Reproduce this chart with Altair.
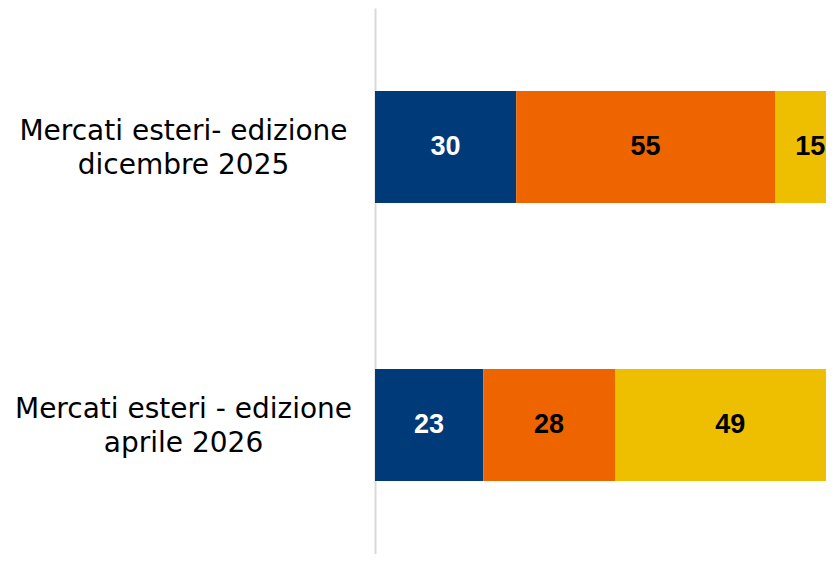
import altair as alt
import pandas as pd

categorie = ["Mercati esteri- edizione\ndicembre 2025", "Mercati esteri - edizione\naprile 2026"]
serie = ["Serie 1", "Serie 2", "Serie 3"]
valori_dic_2025 = [30, 55, 15]
valori_apr_2026 = [23, 28, 49]
colori = ["#003A78", "#EE6500", "#EEBE00"]

rows = []
for cat, vals in zip(categorie, [valori_dic_2025, valori_apr_2026]):
    for i, (s, v) in enumerate(zip(serie, vals)):
        rows.append({"categoria": cat, "serie": s, "ordine": i, "valore": v})
df = pd.DataFrame(rows)

FONT = "DejaVu Sans"
NUM_FONT = "Liberation Sans"

y_enc = alt.Y(
    "categoria:N",
    sort=categorie,
    scale=alt.Scale(paddingInner=0.597, paddingOuter=0.2805, align=0.532),
    axis=alt.Axis(
        title=None,
        ticks=False,
        labelExpr="split(datum.label, '\\n')",
        labelAlign="center",
        labelBaseline="middle",
        labelPadding=192,
        labelOffset=-15,
        labelFont=FONT,
        labelFontSize=28,
        labelLineHeight=34,
        labelColor="#000000",
        labelLimit=0,
        domainColor="#D9D9D9",
        domainWidth=2,
        grid=False,
    ),
)

x_scale = alt.Scale(domain=[0, 95.84], nice=False, zero=True)

bars = alt.Chart(df).mark_bar(clip=True).encode(
    x=alt.X("valore:Q", stack="zero", scale=x_scale, axis=None),
    y=y_enc,
    color=alt.Color("serie:N", scale=alt.Scale(domain=serie, range=colori), legend=None),
    order=alt.Order("ordine:Q"),
)

labels = alt.Chart(df).transform_window(
    cum="sum(valore)", groupby=["categoria"], sort=[alt.SortField("ordine")]
).transform_calculate(
    mid="datum.cum - datum.valore / 2"
).mark_text(
    font=NUM_FONT, fontSize=27, fontWeight="bold", baseline="middle", align="center"
).encode(
    x=alt.X("mid:Q", scale=x_scale, axis=None),
    y=alt.Y("categoria:N", sort=categorie),
    text=alt.Text("valore:Q"),
    color=alt.condition(alt.datum.serie == "Serie 1", alt.value("#FFFFFF"), alt.value("#000000")),
)

chart = alt.layer(bars, labels).properties(
    width=451,
    height=546,
    autosize=alt.AutoSizeParams(type="none"),
    padding={"left": 367, "top": 0, "right": 0, "bottom": 0},
).configure_view(stroke=None)

chart.save("out.html", embed_options={"renderer": "svg", "actions": False})
